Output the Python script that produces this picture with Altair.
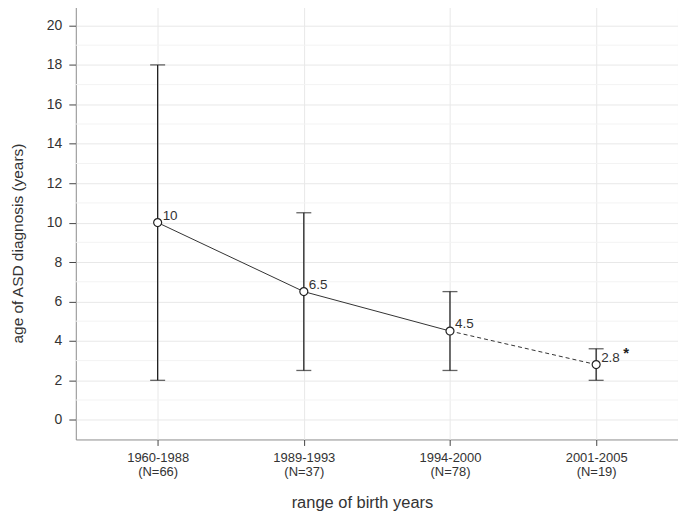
import altair as alt
import pandas as pd

cats = ["1960-1988", "1989-1993", "1994-2000", "2001-2005"]
ns = ["(N=66)", "(N=37)", "(N=78)", "(N=19)"]
medians = [10, 6.5, 4.5, 2.8]
lows = [2, 2.5, 2.5, 2]
highs = [18, 10.5, 6.5, 3.6]
point_labels = ["10", "6.5", "4.5", "2.8"]
y_ticks = [0, 2, 4, 6, 8, 10, 12, 14, 16, 18, 20]
minor_grid = [1, 3, 5, 7, 9, 11, 13, 15, 17, 19]
star_index = 3

cat_labels = [c + "\n" + n for c, n in zip(cats, ns)]

df = pd.DataFrame({
    "cat": cat_labels,
    "median": medians,
    "low": lows,
    "high": highs,
    "lab": point_labels,
})
solid_df = df.iloc[0:3]
dashed_df = df.iloc[2:4]
star_df = df.iloc[[star_index]].assign(star="*")
minor_df = pd.DataFrame({"v": minor_grid})

FONT = "Liberation Sans"
W, H = 604, 435

x_enc = alt.X(
    "cat:N",
    sort=cat_labels,
    scale=alt.Scale(type="point", padding=0.56),
    axis=alt.Axis(
        title="range of birth years",
        labelAngle=0,
        labelExpr="split(datum.label, '\\n')",
        labelFontSize=13,
        labelColor="#333333",
        labelPadding=6,
        labelLineHeight=14.5,
        tickSize=6,
        tickColor="#444444",
        grid=True,
        gridColor="#e8e8e8",
        domain=False,
        titleFontSize=16.5,
        titleFontWeight="normal",
        titleColor="#333333",
        titleBaseline="middle",
        titleAlign="center",
        titleX=287,
        titleY=63,
    ),
)
y_scale = alt.Scale(domain=[-1, 21], nice=False, zero=False)
y_axis = alt.Axis(
    title="age of ASD diagnosis (years)",
    values=y_ticks,
    labelFontSize=14,
    labelColor="#333333",
    labelPadding=7,
    tickSize=7,
    tickColor="#444444",
    grid=True,
    gridColor="#e8e8e8",
    domain=False,
    titleFontSize=15.5,
    titleFontWeight="normal",
    titleColor="#333333",
    titleBaseline="middle",
    titleAlign="center",
    titleAngle=270,
    titleX=-58,
    titleY=238,
)

base = alt.Chart(df)

minor = alt.Chart(minor_df).mark_rule(color="#f3f3f3", strokeWidth=1).encode(
    y=alt.Y("v:Q", scale=y_scale, axis=y_axis)
)

bars = base.mark_rule(color="#222222", strokeWidth=1.3).encode(
    x=x_enc,
    y=alt.Y("low:Q", scale=y_scale, axis=y_axis),
    y2="high:Q",
)
cap_lo = base.mark_tick(color="#222222", size=15, thickness=1.3, orient="horizontal").encode(
    x=alt.X("cat:N", sort=cat_labels), y=alt.Y("low:Q")
)
cap_hi = base.mark_tick(color="#222222", size=15, thickness=1.3, orient="horizontal").encode(
    x=alt.X("cat:N", sort=cat_labels), y=alt.Y("high:Q")
)
line_solid = alt.Chart(solid_df).mark_line(color="#333333", strokeWidth=1).encode(
    x=alt.X("cat:N", sort=cat_labels), y=alt.Y("median:Q")
)
line_dashed = alt.Chart(dashed_df).mark_line(color="#333333", strokeWidth=1, strokeDash=[4, 3]).encode(
    x=alt.X("cat:N", sort=cat_labels), y=alt.Y("median:Q")
)
points = base.mark_point(shape="circle", filled=True, fill="white", stroke="#222222",
                         strokeWidth=1.2, size=64, opacity=1).encode(
    x=alt.X("cat:N", sort=cat_labels), y=alt.Y("median:Q")
)
texts = base.mark_text(align="left", baseline="middle", dx=5, dy=-7, fontSize=13.5,
                       color="#333333", font=FONT).encode(
    x=alt.X("cat:N", sort=cat_labels), y=alt.Y("median:Q"), text="lab:N"
)
star = alt.Chart(star_df).mark_text(align="center", baseline="middle", dx=30, dy=4,
                                    fontSize=15, fontWeight="bold", color="#222222",
                                    font=FONT).encode(
    x=alt.X("cat:N", sort=cat_labels), y=alt.Y("high:Q"), text="star:N"
)

chart = alt.layer(
    minor, bars, cap_lo, cap_hi, line_solid, line_dashed, points, texts, star
).properties(
    width=W,
    height=H,
    autosize=alt.AutoSizeParams(type="none"),
    padding={"left": 68, "top": -3, "right": 0, "bottom": 72},
).configure(
    font=FONT,
).configure_view(
    stroke="#8c8c8c",
    strokeWidth=1,
)

chart.save("out.html", embed_options={"renderer": "svg", "actions": False})
